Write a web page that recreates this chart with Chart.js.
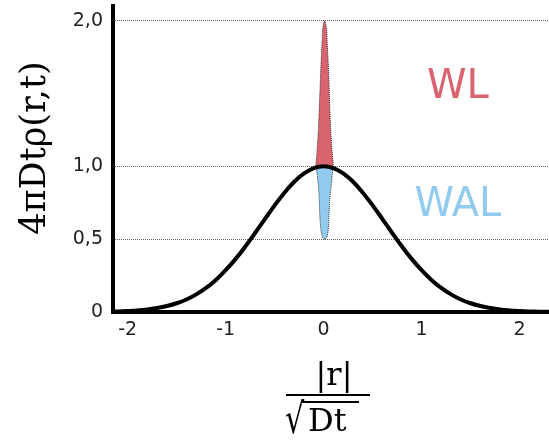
<!DOCTYPE html>
<html>
<head>
<meta charset="utf-8">
<script src="https://cdn.jsdelivr.net/npm/chart.js@4/dist/chart.umd.min.js"></script>
<style>
  html, body { margin: 0; padding: 0; background: #fff; }
  #wrap { width: 549px; height: 441px; }
</style>
</head>
<body>
<div id="wrap"><canvas id="chart" width="549" height="441"></canvas></div>
<script>
// main curve
const curveX = [-2.2, -2.1, -2.0, -1.9, -1.8, -1.7, -1.6, -1.5, -1.4, -1.3, -1.2, -1.1, -1.0,
  -0.9, -0.8, -0.7, -0.6, -0.5, -0.4, -0.3, -0.2, -0.1, 0, 0.1, 0.2, 0.3, 0.4, 0.5, 0.6,
  0.7, 0.8, 0.9, 1.0, 1.1, 1.2, 1.3, 1.4, 1.5, 1.6, 1.7, 1.8, 1.9, 2.0, 2.1, 2.2, 2.3];
const curveY = [0.002, 0.004, 0.007, 0.011, 0.017, 0.027, 0.041, 0.060, 0.086, 0.121, 0.165,
  0.220, 0.287, 0.363, 0.449, 0.542, 0.638, 0.732, 0.819, 0.894, 0.951, 0.988, 1.0, 0.988,
  0.951, 0.894, 0.819, 0.732, 0.638, 0.542, 0.449, 0.363, 0.287, 0.220, 0.165, 0.121, 0.086,
  0.060, 0.041, 0.027, 0.017, 0.011, 0.007, 0.004, 0.002, 0.001];

// WL spike (red), above 1
const wlX = [-0.08, -0.066, -0.054, -0.046, -0.036, -0.026, -0.017, -0.008, 0.01,
  0.028, 0.037, 0.046, 0.056, 0.064, 0.072, 0.084, 0.1];
const wlY = [1.0, 1.12, 1.25, 1.38, 1.55, 1.72, 1.84, 1.95, 2.0,
  1.95, 1.84, 1.72, 1.55, 1.38, 1.25, 1.12, 1.0];

// WAL dip (blue), below 1
const walX = [-0.075, -0.062, -0.05, -0.044, -0.039, -0.032, -0.022, -0.01, 0.01,
  0.03, 0.042, 0.049, 0.054, 0.06, 0.072, 0.095];
const walY = [0.99, 0.92, 0.84, 0.75, 0.66, 0.59, 0.54, 0.51, 0.5,
  0.51, 0.54, 0.59, 0.66, 0.75, 0.84, 0.99];

const xTicks = [-2, -1, 0, 1, 2];
const yTicks = [0, 0.5, 1, 2];
const yTickLabels = ["0", "0,5", "1,0", "2,0"];

const RED = "#d9636f";
const BLUE = "#93cbee";

const toPoints = (xs, ys) => xs.map((x, i) => ({ x: x, y: ys[i] }));

// titles and WL / WAL labels
const textPlugin = {
  id: "texts",
  afterDraw(chart) {
    const ctx = chart.ctx;
    const xs = chart.scales.x;
    const ys = chart.scales.y;
    ctx.save();

    // y title
    ctx.fillStyle = "#000";
    ctx.font = "35px 'DejaVu Serif'";
    ctx.textAlign = "center";
    ctx.textBaseline = "middle";
    ctx.translate(36, 148);
    ctx.rotate(-Math.PI / 2);
    ctx.fillText("4πDtρ(r,t)", 0, 0);
    ctx.setTransform(1, 0, 0, 1, 0, 0);

    // x title as a fraction
    ctx.textBaseline = "alphabetic";
    ctx.font = "32px 'DejaVu Serif'";
    ctx.fillText("|r|", 334, 385);
    ctx.fillRect(286, 394, 84, 2);
    ctx.textAlign = "left";
    ctx.fillText("Dt", 308, 431);
    ctx.fillRect(302, 401, 57, 2);
    ctx.save();
    ctx.translate(285, 433);
    ctx.scale(0.72, 1);
    ctx.font = "42px 'DejaVu Serif'";
    ctx.fillText("√", 0, 0);
    ctx.restore();

    // WL / WAL
    ctx.textAlign = "center";
    ctx.font = "40px 'DejaVu Sans'";
    ctx.fillStyle = RED;
    ctx.fillText("WL", xs.getPixelForValue(1.37), ys.getPixelForValue(1.47));
    ctx.fillStyle = BLUE;
    ctx.fillText("WAL", xs.getPixelForValue(1.37), ys.getPixelForValue(0.66));
    ctx.restore();
  }
};

new Chart(document.getElementById("chart"), {
  type: "line",
  data: {
    datasets: [
      {
        data: toPoints(curveX, curveY),
        borderColor: "#000",
        borderWidth: 4,
        pointRadius: 0,
        tension: 0.4,
        fill: false
      },
      {
        data: toPoints(wlX, wlY),
        borderColor: "#333",
        borderWidth: 1,
        borderDash: [1, 1],
        backgroundColor: RED,
        pointRadius: 0,
        tension: 0.3,
        fill: { value: 1 }
      },
      {
        data: toPoints(walX, walY),
        borderColor: "#333",
        borderWidth: 1,
        borderDash: [1, 1],
        backgroundColor: BLUE,
        pointRadius: 0,
        tension: 0.3,
        fill: { value: 1 }
      }
    ]
  },
  options: {
    responsive: false,
    animation: false,
    layout: { padding: { top: 6, left: 0, right: 0, bottom: 0 } },
    plugins: {
      legend: { display: false },
      tooltip: { enabled: false }
    },
    scales: {
      x: {
        type: "linear",
        min: -2.15,
        max: 2.3,
        afterBuildTicks: (scale) => { scale.ticks = xTicks.map((v) => ({ value: v })); },
        afterFit: (scale) => {
          scale.height = 129;
          scale.paddingLeft = 0;
          scale.paddingRight = 0;
        },
        grid: { drawTicks: false, color: "rgba(0,0,0,0)" },
        border: { display: true, color: "#000", width: 4 },
        ticks: {
          padding: 7,
          color: "#222",
          font: { family: "'DejaVu Sans'", size: 19 },
          maxRotation: 0
        }
      },
      y: {
        type: "linear",
        min: 0,
        max: 2.1,
        afterBuildTicks: (scale) => { scale.ticks = yTicks.map((v) => ({ value: v })); },
        afterFit: (scale) => {
          scale.width = 113;
          scale.paddingTop = 0;
          scale.paddingBottom = 0;
        },
        grid: {
          drawTicks: false,
          lineWidth: 1,
          color: (c) => (c.tick && c.tick.value === 0 ? "rgba(0,0,0,0)" : "#666")
        },
        border: { display: true, color: "#000", width: 4, dash: [1, 1] },
        ticks: {
          padding: 10,
          color: "#222",
          font: { family: "'DejaVu Sans'", size: 19 },
          callback: (v) => yTickLabels[yTicks.indexOf(v)]
        }
      }
    }
  },
  plugins: [textPlugin]
});
</script>
</body>
</html>
